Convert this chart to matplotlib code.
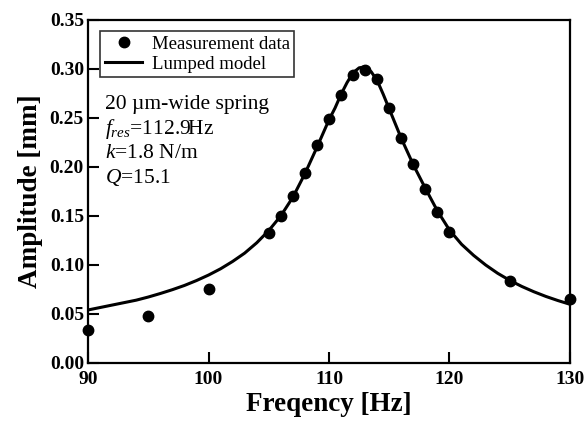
import matplotlib
matplotlib.use("Agg")
import matplotlib.pyplot as plt

plt.rcParams['font.family'] = ['Liberation Serif', 'DejaVu Serif']
plt.rcParams['mathtext.fontset'] = 'custom'
plt.rcParams['mathtext.rm'] = 'Liberation Serif'
plt.rcParams['mathtext.it'] = 'Liberation Serif:italic'

# measured points
meas_freq = [90, 95, 100, 105, 106, 107, 108, 109, 110, 111, 112, 113, 114,
             115, 116, 117, 118, 119, 120, 125, 130]
meas_amp = [0.034, 0.048, 0.075, 0.133, 0.150, 0.170, 0.194, 0.222, 0.249,
            0.273, 0.294, 0.299, 0.290, 0.260, 0.229, 0.203, 0.177, 0.154,
            0.134, 0.084, 0.065]

# lumped model curve
model_freq = [90, 91, 92, 93, 94, 95, 96, 97, 98, 99, 100, 101, 102, 103,
              104, 105, 106, 107, 108, 109, 109.5, 110, 110.5, 111, 111.5,
              112, 112.5, 113, 113.5, 114, 114.5, 115, 116, 117, 118, 119,
              120, 121, 122, 123, 124, 125, 126, 127, 128, 129, 130]
model_amp = [0.054, 0.0565, 0.059, 0.0615, 0.064, 0.0672, 0.0708, 0.0747,
             0.079, 0.084, 0.0896, 0.096, 0.1035, 0.112, 0.1225, 0.135,
             0.150, 0.169, 0.193, 0.220, 0.234, 0.248, 0.260, 0.274, 0.286,
             0.296, 0.301, 0.302, 0.297, 0.288, 0.274, 0.259, 0.229, 0.202,
             0.178, 0.155, 0.1355, 0.121, 0.1097, 0.0999, 0.0914, 0.0842,
             0.078, 0.0726, 0.0678, 0.0636, 0.0598]

fig = plt.figure(figsize=(5.87, 4.21), dpi=100)
ax = fig.add_axes([0.150, 0.138, 0.821, 0.815])

ax.plot(model_freq, model_amp, color='black', lw=2.2, label='Lumped model', zorder=2)
ax.plot(meas_freq, meas_amp, 'o', color='black', ms=7.5, label='Measurement data',
        clip_on=False, zorder=3)

ax.set_xlim(90, 130)
ax.set_ylim(0, 0.35)
ax.set_xticks([90, 100, 110, 120, 130])
ax.set_yticks([0, 0.05, 0.10, 0.15, 0.20, 0.25, 0.30, 0.35])
ax.set_yticklabels(['0.00', '0.05', '0.10', '0.15', '0.20', '0.25', '0.30', '0.35'])
ax.tick_params(direction='in', length=8, width=1.5, top=False, right=False,
               labelsize=14)
ax.tick_params(axis='x', pad=6)
ax.tick_params(axis='y', pad=3)
for lab in ax.get_xticklabels() + ax.get_yticklabels():
    lab.set_fontweight('bold')
for s in ax.spines.values():
    s.set_linewidth(1.6)

ax.set_xlabel('Freqency [Hz]', fontsize=19.5, fontweight='bold', labelpad=3)
ax.set_ylabel('Amplitude [mm]', fontsize=19.5, fontweight='bold', labelpad=5)

handles, labels = ax.get_legend_handles_labels()
leg = ax.legend(handles[::-1], labels[::-1], loc='upper left',
                bbox_to_anchor=(0.025, 0.968), borderaxespad=0, fontsize=13.5,
                frameon=True, fancybox=False, edgecolor='black',
                handlelength=2.0, handletextpad=0.5, borderpad=0.25,
                labelspacing=0.15)
leg.get_frame().set_linewidth(1.2)

info = ['20 µm-wide spring', '$f_{res}$=112.9Hz', '$k$=1.8 N/m', '$Q$=15.1']
for i, t in enumerate(info):
    ax.text(0.036, 0.752 - i * 0.071, t, transform=ax.transAxes, fontsize=15.5,
            va='center', ha='left')

fig.savefig('out.png', dpi=100)
